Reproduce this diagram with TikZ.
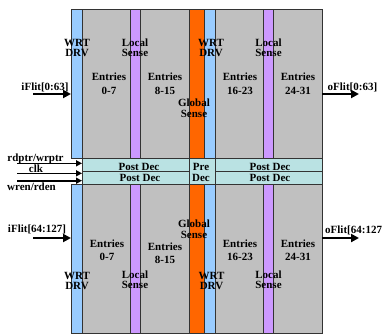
\documentclass[tikz,border=0pt]{standalone}
\usepackage{fontspec}
\setmainfont{Liberation Serif}
\usetikzlibrary{arrows.meta}
\definecolor{cblue}{HTML}{99CCFF}
\definecolor{cgray}{HTML}{C0C0C0}
\definecolor{cpurple}{HTML}{CC99FF}
\definecolor{corange}{HTML}{FF6600}
\definecolor{ccyan}{HTML}{BAE2E3}
\definecolor{cline}{HTML}{333333}
\begin{document}
\begin{tikzpicture}[x=1pt,y=-1pt,
  box/.style={draw=cline, line width=0.8pt, inner sep=0pt, outer sep=0pt, anchor=north west},
  lbl/.style={font=\bfseries\fontsize{11}{10}\selectfont, align=center, inner sep=0pt},
  ent/.style={font=\bfseries\fontsize{11}{13.5}\selectfont, align=center, inner sep=0pt},
  gl/.style={font=\bfseries\fontsize{11}{11.5}\selectfont, align=center, inner sep=0pt},
  sig/.style={font=\bfseries\fontsize{11}{11}\selectfont, inner sep=0pt},
  bigarrow/.style={-{Triangle[length=8pt,width=8pt]}, line width=2.4pt},
  smallarrow/.style={-{Triangle[length=6pt,width=6pt]}, line width=1.6pt}]
\useasboundingbox (0,0) rectangle (382,335);
% top block
\node[box, fill=cblue,   minimum width=11pt, minimum height=149pt] (tA) at (71,9) {};
\node[box, fill=cgray,   minimum width=48pt, minimum height=149pt] (tB) at (82,9) {};
\node[box, fill=cpurple, minimum width=10pt, minimum height=149pt] (tC) at (130,9) {};
\node[box, fill=cgray,   minimum width=49pt, minimum height=149pt] (tD) at (140,9) {};
\node[box, fill=corange, minimum width=15pt, minimum height=149pt] (tE) at (189,9) {};
\node[box, fill=cblue,   minimum width=11pt, minimum height=149pt] (tF) at (204,9) {};
\node[box, fill=cgray,   minimum width=48pt, minimum height=149pt] (tG) at (215,9) {};
\node[box, fill=cpurple, minimum width=10pt, minimum height=149pt] (tH) at (263,9) {};
\node[box, fill=cgray,   minimum width=49pt, minimum height=149pt] (tI) at (273,9) {};
% decoder rows
\node[box, fill=ccyan, minimum width=107pt, minimum height=13pt] (pL1) at (82,158) {};
\node[box, fill=ccyan, minimum width=107pt, minimum height=13pt] (pL2) at (82,171) {};
\node[box, fill=ccyan, minimum width=26pt,  minimum height=26pt] (pre) at (189,158) {};
\node[box, fill=ccyan, minimum width=107pt, minimum height=13pt] (pR1) at (215,158) {};
\node[box, fill=ccyan, minimum width=107pt, minimum height=13pt] (pR2) at (215,171) {};
% bottom block
\node[box, fill=cblue,   minimum width=11pt, minimum height=149pt] (bA) at (71,184) {};
\node[box, fill=cgray,   minimum width=48pt, minimum height=149pt] (bB) at (82,184) {};
\node[box, fill=cpurple, minimum width=10pt, minimum height=149pt] (bC) at (130,184) {};
\node[box, fill=cgray,   minimum width=49pt, minimum height=149pt] (bD) at (140,184) {};
\node[box, fill=corange, minimum width=15pt, minimum height=149pt] (bE) at (189,184) {};
\node[box, fill=cblue,   minimum width=11pt, minimum height=149pt] (bF) at (204,184) {};
\node[box, fill=cgray,   minimum width=48pt, minimum height=149pt] (bG) at (215,184) {};
\node[box, fill=cpurple, minimum width=10pt, minimum height=149pt] (bH) at (263,184) {};
\node[box, fill=cgray,   minimum width=49pt, minimum height=149pt] (bI) at (273,184) {};
% top labels
\node[lbl] (tWa) at (77,47.5) {WRT\\DRV};
\node[lbl] (tLa) at (135,47.5) {Local\\Sense};
\node[lbl] (tWb) at (211,47.5) {WRT\\DRV};
\node[lbl] (tLb) at (268.5,47.5) {Local\\Sense};
\node[ent] (tE1) at (109,83.5) {Entries\\0-7};
\node[ent] (tE2) at (165,83.5) {Entries\\8-15};
\node[ent] (tE3) at (240,83.5) {Entries\\16-23};
\node[ent] (tE4) at (298,83.5) {Entries\\24-31};
\node[gl] (tGS) at (194,108) {Global\\Sense};
% decoder labels
\node[sig] (d1) at (139,166.5) {Post Dec};
\node[sig] (d2) at (140,178.3) {Post Dec};
\node[gl]  (d3) at (201,172.2) {Pre\\Dec};
\node[sig] (d4) at (270,166.5) {Post Dec};
\node[sig] (d5) at (270,178.3) {Post Dec};
% bottom labels
\node[ent] (bE1) at (107,250.3) {Entries\\0-7};
\node[ent] (bE2) at (165,253.3) {Entries\\8-15};
\node[ent] (bE3) at (240,250.3) {Entries\\16-23};
\node[ent] (bE4) at (298,250.3) {Entries\\24-31};
\node[lbl] (bWa) at (77,281) {WRT\\DRV};
\node[lbl] (bLa) at (135,280) {Local\\Sense};
\node[lbl] (bWb) at (211.5,281) {WRT\\DRV};
\node[lbl] (bLb) at (268.5,280) {Local\\Sense};
\node[gl] (bGS) at (194,229.3) {Global\\Sense};
% signal labels
\node[sig] (iF0) at (45,87) {iFlit[0:63]};
\node[sig] (iF1) at (37,229.7) {iFlit[64:127]};
\node[sig, anchor=west] (oF0) at (327.5,87) {oFlit[0:63]};
\node[sig, anchor=west] (oF1) at (325,230.7) {oFlit[64:127]};
\node[sig] (rw) at (35.5,159) {rdptr/wrptr};
\node[sig] (ck) at (36,169) {clk};
\node[sig] (wr) at (31.5,187) {wren/rden};
% arrows
\coordinate (iF0s) at (33,94);
\coordinate (iF1s) at (33,238);
\coordinate (oF0e) at (359,94);
\coordinate (oF1e) at (359,238);
\draw[bigarrow] (iF0s) -- (tA.west |- iF0s);
\draw[bigarrow] (iF1s) -- (bA.west |- iF1s);
\draw[bigarrow] (tI.east |- oF0e) -- (oF0e);
\draw[bigarrow] (bI.east |- oF1e) -- (oF1e);
\coordinate (rws) at (17,163.3);
\coordinate (cks) at (17,173.3);
\coordinate (wrs) at (17,180.7);
\draw[smallarrow] (rws) -- (pL1.west |- rws);
\draw[smallarrow] (cks) -- (pL2.west |- cks);
\draw[smallarrow] (wrs) -- (pL2.west |- wrs);
\end{tikzpicture}
\end{document}
